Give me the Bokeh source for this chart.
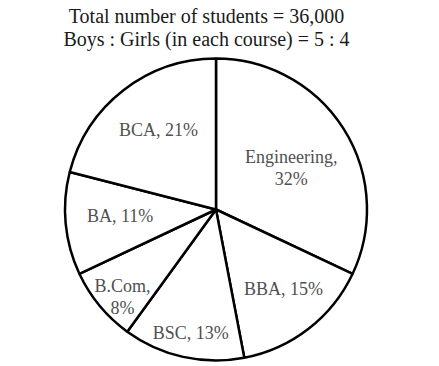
import math
from bokeh.plotting import figure
from bokeh.models import Range1d, ColumnDataSource
from bokeh.core.properties import value
from bokeh.embed import file_html
from bokeh.resources import INLINE

# ---- data ----
courses = ["Engineering", "BBA", "BSC", "B.Com", "BA", "BCA"]
shares = [32, 15, 13, 8, 11, 21]
label_lines = [["Engineering,", "32%"], ["BBA, 15%"], ["BSC, 13%"], ["B.Com,", "8%"], ["BA, 11%"], ["BCA, 21%"]]
title_lines = ["Total number of students = 36,000", "Boys : Girls (in each course) = 5 : 4"]

# ---- layout ----
W, H = 431, 362
cx, cy = 215.5, H - 209
R = 151
label_r = [86, 104, 126, 128, 96, 98]
label_da = [-3.4, 2.7, 1.0, 3.4, -1.8, -1.8]
FONT = "Liberation Serif"

p = figure(width=W, height=H, output_backend="svg", toolbar_location=None,
           x_range=Range1d(0, W), y_range=Range1d(0, H), min_border=0)
p.axis.visible = False
p.grid.visible = False
p.outline_line_color = None
p.background_fill_color = "white"
p.border_fill_color = "white"

total = sum(shares)
starts, ends, mids = [], [], []
a = math.pi / 2
for s in shares:
    da = 2 * math.pi * s / total
    starts.append(a - da)
    ends.append(a)
    mids.append(a - da / 2)
    a -= da

src = ColumnDataSource(dict(start=starts, end=ends, name=courses))
p.wedge(x=cx, y=cy, radius=R, start_angle="start", end_angle="end", source=src,
        fill_color="white", line_color="black", line_width=2.5)

lx, ly, lt = [], [], []
lh = 22
for m, r, d, lines in zip(mids, label_r, label_da, label_lines):
    ang = m + math.radians(d)
    x0 = cx + r * math.cos(ang)
    y0 = cy + r * math.sin(ang)
    n = len(lines)
    for i, t in enumerate(lines):
        lx.append(x0)
        ly.append(y0 + (n - 1) * lh / 2 - i * lh)
        lt.append(t)
p.text(x=lx, y=ly, text=lt, text_font=value(FONT), text_font_size="18px",
       text_color="#505050", text_align="center", text_baseline="middle")

p.text(x=[206, 206], y=[H - 15, H - 38], text=title_lines, text_font=value(FONT),
       text_font_size="20px", text_color="#1a1a1a", text_align="center", text_baseline="middle")

open("out.html", "w").write(file_html(p, INLINE))
